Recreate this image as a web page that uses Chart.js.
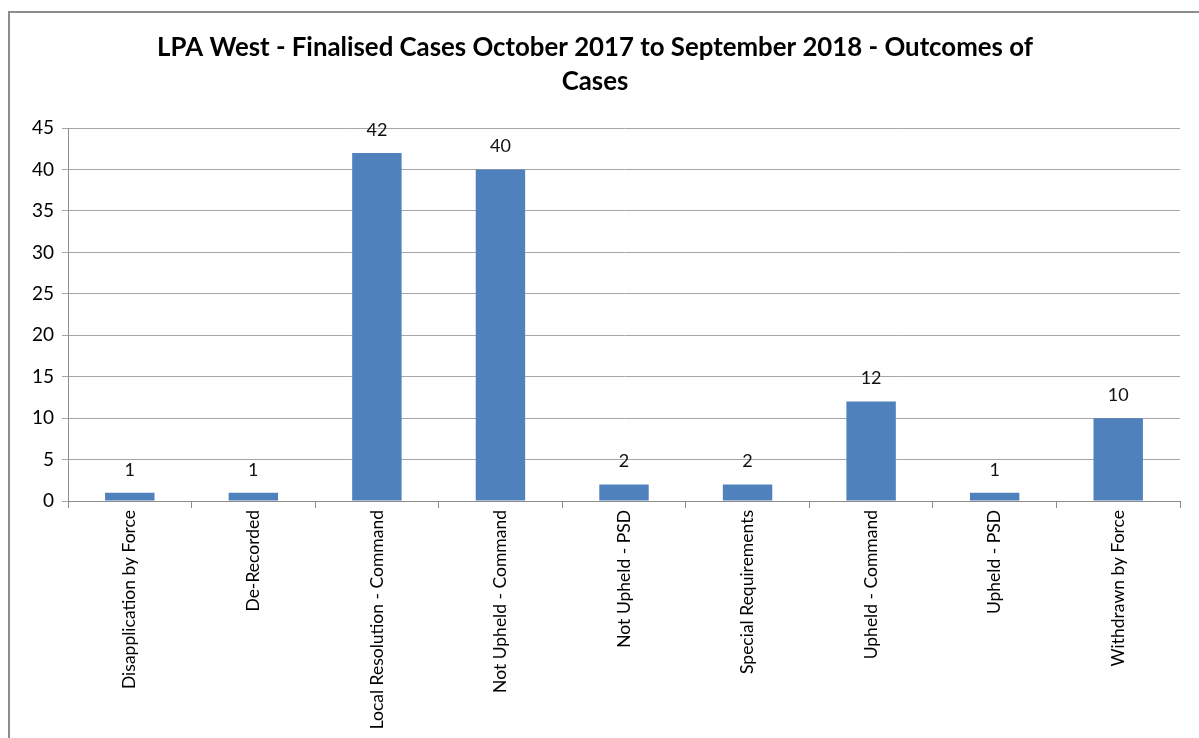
<!DOCTYPE html>
<html>
<head>
<meta charset="utf-8">
<script src="https://cdn.jsdelivr.net/npm/chart.js@4"></script>
<style>
    html, body { margin: 0; padding: 0; overflow: hidden; background: #fff; }
    #frame {
        position: absolute; left: 8px; top: 11px;
        width: 1300px; height: 800px;
        border: 2px solid #8c8c8c; box-sizing: border-box;
    }
    #wrap { position: absolute; left: 0; top: 0; width: 1199px; height: 738px; }
</style>
</head>
<body>
<div id="frame"></div>
<div id="wrap"><canvas id="outcomeChart"></canvas></div>
<script>
const outcomeLabels = [
    "Disapplication by Force", "De-Recorded", "Local Resolution - Command",
    "Not Upheld - Command", "Not Upheld - PSD", "Special Requirements",
    "Upheld - Command", "Upheld - PSD", "Withdrawn by Force"
];
const outcomeCounts = [1, 1, 42, 40, 2, 2, 12, 1, 10];
const titleLines = [
    "LPA West - Finalised Cases October 2017 to September 2018 - Outcomes of",
    "Cases"
];

const fontFamily = "Lato, 'Open Sans', sans-serif";

// values above each bar, placed from the bar elements
const valueLabels = {
    id: "valueLabels",
    afterDatasetsDraw(chart) {
        const { ctx } = chart;
        const meta = chart.getDatasetMeta(0);
        ctx.save();
        ctx.font = "18px " + fontFamily;
        ctx.fillStyle = "#111";
        ctx.textAlign = "center";
        ctx.textBaseline = "bottom";
        meta.data.forEach(function (bar, i) {
            ctx.fillText(outcomeCounts[i], bar.x, bar.y - 14);
        });
        ctx.restore();
    }
};

let canvas = document.getElementById("outcomeChart");

const OutcomeChart = new Chart(canvas, {
    type: 'bar',
    data: {
        labels: outcomeLabels,
        datasets: [{
            data: outcomeCounts,
            backgroundColor: "#4F81BD",
            borderWidth: 0,
            categoryPercentage: 1,
            barPercentage: 0.4
        }]
    },
    options: {
        responsive: true,
        maintainAspectRatio: false,
        animation: false,
        layout: {
            padding: { top: 31, right: 19, left: 10, bottom: 0 }
        },
        plugins: {
            legend: { display: false },
            tooltip: { enabled: false },
            title: {
                display: true,
                text: titleLines,
                color: "#000",
                font: { family: fontFamily, size: 25.8, weight: "bold", lineHeight: 1.32 },
                padding: { top: 0, bottom: 29 }
            }
        },
        scales: {
            x: {
                grid: {
                    offset: true,
                    drawOnChartArea: false,
                    color: "#8c8c8c",
                    tickLength: 7
                },
                border: { color: "#8c8c8c" },
                ticks: {
                    minRotation: 90,
                    maxRotation: 90,
                    color: "#000",
                    font: { family: fontFamily, size: 17.5 },
                    padding: 2
                },
                afterFit: function (scale) { scale.height = 237; }
            },
            y: {
                min: 0,
                max: 45,
                ticks: {
                    stepSize: 5,
                    color: "#000",
                    font: { family: fontFamily, size: 19 },
                    padding: 8
                },
                grid: { color: "#a6a6a6", tickLength: 6 },
                border: { color: "#8c8c8c" },
                afterFit: function (scale) { scale.width = 58; }
            }
        }
    },
    plugins: [valueLabels]
});
</script>
</body>
</html>
